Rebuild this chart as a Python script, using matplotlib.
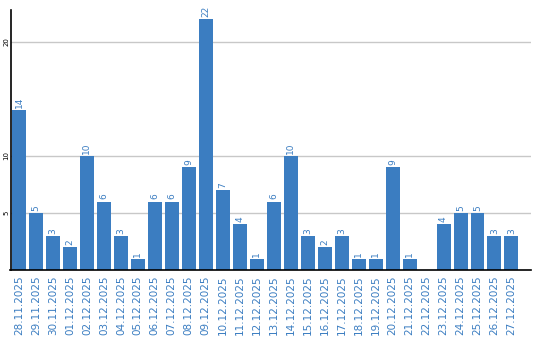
import numpy as np
import matplotlib.pyplot as plt

# daily counts
dates = ['28.11.2025', '29.11.2025', '30.11.2025', '01.12.2025', '02.12.2025',
         '03.12.2025', '04.12.2025', '05.12.2025', '06.12.2025', '07.12.2025',
         '08.12.2025', '09.12.2025', '10.12.2025', '11.12.2025', '12.12.2025',
         '13.12.2025', '14.12.2025', '15.12.2025', '16.12.2025', '17.12.2025',
         '18.12.2025', '19.12.2025', '20.12.2025', '21.12.2025', '22.12.2025',
         '23.12.2025', '24.12.2025', '25.12.2025', '26.12.2025', '27.12.2025']
counts = [14, 5, 3, 2, 10, 6, 3, 1, 6, 6, 9, 22, 7, 4, 1,
          6, 10, 3, 2, 3, 1, 1, 9, 1, 0, 4, 5, 5, 3, 3]
yticks = [5, 10, 20]

blue = '#3b7dc1'

fig = plt.figure(figsize=(5.4, 3.4), dpi=100)
ax = fig.add_axes([10.5 / 540, 70 / 340, 520.5 / 540, 260 / 340])

x = np.arange(len(dates))
ax.bar(x, counts, width=14 / 17, color=blue, zorder=2)

# value labels above bars (no label for empty days)
for xi, c in zip(x, counts):
    if c > 0:
        ax.annotate(str(c), (xi, c), xytext=(0, 1.5), textcoords='offset points',
                    rotation=90, ha='center', va='bottom', color=blue, fontsize=6.5)

ax.set_xlim(-0.5, 30.15)
ax.set_ylim(0, 22.8)

ax.set_yticks(yticks)
ax.set_yticklabels([str(t) for t in yticks], rotation=90, va='center', fontsize=5)
ax.yaxis.grid(True, color='#c8c8c8', linewidth=1, zorder=0)
ax.set_axisbelow(True)

ax.set_xticks(x)
ax.set_xticklabels(dates, rotation=90, color=blue, fontsize=7.5)
ax.tick_params(axis='both', length=0)
ax.tick_params(axis='x', pad=4)
ax.tick_params(axis='y', pad=1)

for s in ['top', 'right']:
    ax.spines[s].set_visible(False)
ax.spines['left'].set_linewidth(1.2)
ax.spines['bottom'].set_linewidth(1.2)

fig.savefig('out.png', dpi=100)
